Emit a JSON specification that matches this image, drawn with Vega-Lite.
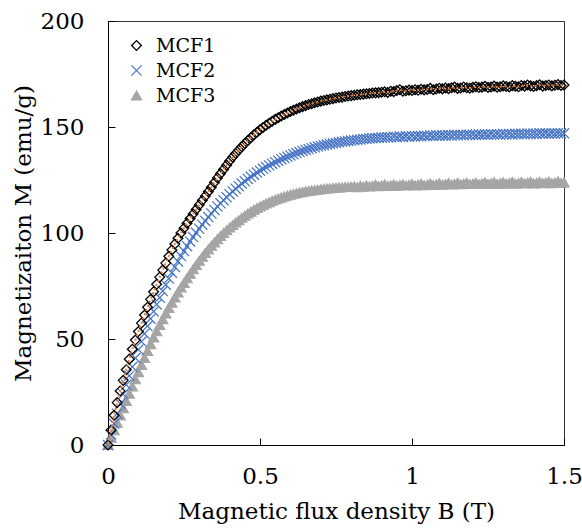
{
  "$schema": "https://vega.github.io/schema/vega-lite/v6.json",
  "width": 456,
  "height": 424,
  "autosize": {"type": "none"},
  "padding": {"left": 108, "top": 21, "right": 18, "bottom": 85},
  "background": "white",
  "config": {
    "font": "DejaVu Serif",
    "view": {"stroke": "#333333", "strokeWidth": 1},
    "axis": {
      "labelFont": "DejaVu Serif", "labelFontSize": 23, "labelColor": "#000000",
      "titleFont": "DejaVu Serif", "titleFontSize": 23, "titleFontWeight": "normal", "titleColor": "#000000",
      "grid": false, "domainColor": "#000000", "domainWidth": 1, "tickColor": "#000000", "tickWidth": 1,
      "tickSize": -7, "labelFlush": false, "labelOverlap": false, "labelBound": false
    },
    "legend": {
      "orient": "none", "legendX": 19, "legendY": 15, "title": null,
      "labelFont": "DejaVu Serif", "labelFontSize": 19, "labelColor": "#000000",
      "labelOffset": 10, "rowPadding": 5, "padding": 0, "symbolStrokeWidth": 1
    }
  },
  "data": {"values": [
    {"B":0.00,"MCF1":0,"MCF2":0,"MCF3":0},
    {"B":0.01,"MCF1":7,"MCF2":5,"MCF3":3.5},
    {"B":0.02,"MCF1":14,"MCF2":10,"MCF3":7},
    {"B":0.03,"MCF1":20,"MCF2":14.8,"MCF3":10.5},
    {"B":0.04,"MCF1":25.5,"MCF2":19.5,"MCF3":14},
    {"B":0.05,"MCF1":30.5,"MCF2":24,"MCF3":17.4},
    {"B":0.06,"MCF1":35.5,"MCF2":28.4,"MCF3":20.8},
    {"B":0.07,"MCF1":40.5,"MCF2":32.7,"MCF3":24.2},
    {"B":0.08,"MCF1":45.2,"MCF2":36.9,"MCF3":27.6},
    {"B":0.09,"MCF1":49.5,"MCF2":41,"MCF3":31},
    {"B":0.10,"MCF1":53.5,"MCF2":45,"MCF3":34.4},
    {"B":0.11,"MCF1":57.5,"MCF2":48.8,"MCF3":37.8},
    {"B":0.12,"MCF1":61.3,"MCF2":52.5,"MCF3":41.1},
    {"B":0.13,"MCF1":65,"MCF2":56.1,"MCF3":44.4},
    {"B":0.14,"MCF1":68.7,"MCF2":59.6,"MCF3":47.6},
    {"B":0.15,"MCF1":72.3,"MCF2":63,"MCF3":50.7},
    {"B":0.16,"MCF1":75.8,"MCF2":66.3,"MCF3":53.7},
    {"B":0.17,"MCF1":79.2,"MCF2":69.5,"MCF3":56.6},
    {"B":0.18,"MCF1":82.5,"MCF2":72.6,"MCF3":59.4},
    {"B":0.19,"MCF1":85.8,"MCF2":75.6,"MCF3":62.1},
    {"B":0.20,"MCF1":89,"MCF2":78.5,"MCF3":64.7},
    {"B":0.21,"MCF1":92,"MCF2":81.3,"MCF3":67.2},
    {"B":0.22,"MCF1":94.8,"MCF2":84,"MCF3":69.6},
    {"B":0.23,"MCF1":97.5,"MCF2":86.6,"MCF3":72},
    {"B":0.24,"MCF1":100,"MCF2":89.1,"MCF3":74.3},
    {"B":0.25,"MCF1":102.3,"MCF2":91.5,"MCF3":76.5},
    {"B":0.26,"MCF1":104.6,"MCF2":93.8,"MCF3":78.7},
    {"B":0.27,"MCF1":106.8,"MCF2":96,"MCF3":80.8},
    {"B":0.28,"MCF1":109,"MCF2":98.1,"MCF3":82.9},
    {"B":0.29,"MCF1":111.1,"MCF2":100.1,"MCF3":84.9},
    {"B":0.30,"MCF1":113.2,"MCF2":102,"MCF3":86.9},
    {"B":0.31,"MCF1":115.3,"MCF2":103.9,"MCF3":88.8},
    {"B":0.32,"MCF1":117.4,"MCF2":105.7,"MCF3":90.6},
    {"B":0.33,"MCF1":119.5,"MCF2":107.5,"MCF3":92.3},
    {"B":0.34,"MCF1":121.6,"MCF2":109.2,"MCF3":94},
    {"B":0.35,"MCF1":123.8,"MCF2":110.9,"MCF3":95.6},
    {"B":0.36,"MCF1":126,"MCF2":112.5,"MCF3":97.1},
    {"B":0.37,"MCF1":128,"MCF2":114,"MCF3":98.6},
    {"B":0.38,"MCF1":130,"MCF2":115.5,"MCF3":100},
    {"B":0.39,"MCF1":132,"MCF2":116.9,"MCF3":101.3},
    {"B":0.40,"MCF1":134,"MCF2":118.3,"MCF3":102.6},
    {"B":0.41,"MCF1":135.8,"MCF2":119.6,"MCF3":103.8},
    {"B":0.42,"MCF1":137.5,"MCF2":120.9,"MCF3":105},
    {"B":0.43,"MCF1":139.1,"MCF2":122.1,"MCF3":106.1},
    {"B":0.44,"MCF1":140.7,"MCF2":123.3,"MCF3":107.2},
    {"B":0.45,"MCF1":142.2,"MCF2":124.4,"MCF3":108.2},
    {"B":0.46,"MCF1":143.6,"MCF2":125.5,"MCF3":109.2},
    {"B":0.47,"MCF1":145,"MCF2":126.5,"MCF3":110.1},
    {"B":0.48,"MCF1":146.3,"MCF2":127.5,"MCF3":111},
    {"B":0.49,"MCF1":147.5,"MCF2":128.5,"MCF3":111.8},
    {"B":0.50,"MCF1":148.7,"MCF2":129.4,"MCF3":112.6},
    {"B":0.51,"MCF1":149.8,"MCF2":130.3,"MCF3":113.3},
    {"B":0.52,"MCF1":150.8,"MCF2":131.1,"MCF3":114},
    {"B":0.53,"MCF1":151.8,"MCF2":131.9,"MCF3":114.6},
    {"B":0.54,"MCF1":152.7,"MCF2":132.7,"MCF3":115.2},
    {"B":0.55,"MCF1":153.6,"MCF2":133.4,"MCF3":115.8},
    {"B":0.56,"MCF1":154.4,"MCF2":134.1,"MCF3":116.3},
    {"B":0.57,"MCF1":155.2,"MCF2":134.8,"MCF3":116.8},
    {"B":0.58,"MCF1":155.9,"MCF2":135.4,"MCF3":117.3},
    {"B":0.59,"MCF1":156.6,"MCF2":136,"MCF3":117.7},
    {"B":0.60,"MCF1":157.3,"MCF2":136.6,"MCF3":118.1},
    {"B":0.61,"MCF1":157.9,"MCF2":137.1,"MCF3":118.5},
    {"B":0.62,"MCF1":158.5,"MCF2":137.7,"MCF3":118.8},
    {"B":0.63,"MCF1":159.1,"MCF2":138.2,"MCF3":119.1},
    {"B":0.64,"MCF1":159.6,"MCF2":138.7,"MCF3":119.4},
    {"B":0.65,"MCF1":160.1,"MCF2":139.2,"MCF3":119.7},
    {"B":0.66,"MCF1":160.6,"MCF2":139.6,"MCF3":119.9},
    {"B":0.67,"MCF1":161,"MCF2":140,"MCF3":120.1},
    {"B":0.68,"MCF1":161.4,"MCF2":140.4,"MCF3":120.3},
    {"B":0.69,"MCF1":161.8,"MCF2":140.8,"MCF3":120.5},
    {"B":0.70,"MCF1":162.2,"MCF2":141.1,"MCF3":120.7},
    {"B":0.71,"MCF1":162.5,"MCF2":141.4,"MCF3":120.9},
    {"B":0.72,"MCF1":162.8,"MCF2":141.7,"MCF3":121},
    {"B":0.73,"MCF1":163.1,"MCF2":142,"MCF3":121.2},
    {"B":0.74,"MCF1":163.4,"MCF2":142.3,"MCF3":121.3},
    {"B":0.75,"MCF1":163.7,"MCF2":142.5,"MCF3":121.4},
    {"B":0.76,"MCF1":163.9,"MCF2":142.8,"MCF3":121.5},
    {"B":0.77,"MCF1":164.1,"MCF2":143,"MCF3":121.6},
    {"B":0.78,"MCF1":164.4,"MCF2":143.2,"MCF3":121.7},
    {"B":0.79,"MCF1":164.6,"MCF2":143.4,"MCF3":121.8},
    {"B":0.80,"MCF1":164.8,"MCF2":143.6,"MCF3":121.9},
    {"B":0.81,"MCF1":165,"MCF2":143.8,"MCF3":122},
    {"B":0.82,"MCF1":165.2,"MCF2":144,"MCF3":121.6},
    {"B":0.83,"MCF1":165.3,"MCF2":144.1,"MCF3":122.3},
    {"B":0.84,"MCF1":165.5,"MCF2":144.3,"MCF3":121.9},
    {"B":0.85,"MCF1":165.7,"MCF2":144.4,"MCF3":122.5},
    {"B":0.86,"MCF1":165.8,"MCF2":144.6,"MCF3":122},
    {"B":0.87,"MCF1":166,"MCF2":144.7,"MCF3":122.2},
    {"B":0.88,"MCF1":166.1,"MCF2":144.8,"MCF3":122.8},
    {"B":0.89,"MCF1":166.2,"MCF2":144.9,"MCF3":122.1},
    {"B":0.90,"MCF1":166.4,"MCF2":145,"MCF3":122.4},
    {"B":0.91,"MCF1":166.6,"MCF2":145,"MCF3":122.9},
    {"B":0.92,"MCF1":166.3,"MCF2":145.2,"MCF3":122.2},
    {"B":0.93,"MCF1":166.9,"MCF2":145.1,"MCF3":122.5},
    {"B":0.94,"MCF1":166.7,"MCF2":145.4,"MCF3":123},
    {"B":0.95,"MCF1":167.2,"MCF2":145.2,"MCF3":122.3},
    {"B":0.96,"MCF1":167.6,"MCF2":145.5,"MCF3":122.6},
    {"B":0.97,"MCF1":166.9,"MCF2":145.3,"MCF3":123.1},
    {"B":0.98,"MCF1":167.1,"MCF2":145.6,"MCF3":122.4},
    {"B":0.99,"MCF1":167.4,"MCF2":145.4,"MCF3":122.7},
    {"B":1.00,"MCF1":167.2,"MCF2":145.7,"MCF3":123.2},
    {"B":1.01,"MCF1":167.6,"MCF2":145.5,"MCF3":122.5},
    {"B":1.02,"MCF1":167.3,"MCF2":145.8,"MCF3":122.8},
    {"B":1.03,"MCF1":167.8,"MCF2":145.6,"MCF3":123.3},
    {"B":1.04,"MCF1":167.5,"MCF2":145.9,"MCF3":122.6},
    {"B":1.05,"MCF1":167.7,"MCF2":145.7,"MCF3":122.9},
    {"B":1.06,"MCF1":168.2,"MCF2":146,"MCF3":123.4},
    {"B":1.07,"MCF1":167.6,"MCF2":145.8,"MCF3":122.7},
    {"B":1.08,"MCF1":167.9,"MCF2":146.1,"MCF3":123},
    {"B":1.09,"MCF1":168.3,"MCF2":145.9,"MCF3":123.5},
    {"B":1.10,"MCF1":168,"MCF2":146.1,"MCF3":122.8},
    {"B":1.11,"MCF1":168.4,"MCF2":145.9,"MCF3":123.1},
    {"B":1.12,"MCF1":168.1,"MCF2":146.2,"MCF3":123.6},
    {"B":1.13,"MCF1":168.5,"MCF2":146,"MCF3":122.9},
    {"B":1.14,"MCF1":168.8,"MCF2":146.3,"MCF3":123.2},
    {"B":1.15,"MCF1":168.2,"MCF2":146.1,"MCF3":123.7},
    {"B":1.16,"MCF1":168.4,"MCF2":146.3,"MCF3":123},
    {"B":1.17,"MCF1":168.9,"MCF2":146.1,"MCF3":123.3},
    {"B":1.18,"MCF1":168.5,"MCF2":146.4,"MCF3":123.8},
    {"B":1.19,"MCF1":168.3,"MCF2":146.2,"MCF3":123.1},
    {"B":1.20,"MCF1":168.7,"MCF2":146.4,"MCF3":123.3},
    {"B":1.21,"MCF1":169,"MCF2":146.2,"MCF3":123.8},
    {"B":1.22,"MCF1":168.6,"MCF2":146.5,"MCF3":123.1},
    {"B":1.23,"MCF1":168.8,"MCF2":146.3,"MCF3":123.4},
    {"B":1.24,"MCF1":169.2,"MCF2":146.5,"MCF3":123.9},
    {"B":1.25,"MCF1":168.7,"MCF2":146.3,"MCF3":123.2},
    {"B":1.26,"MCF1":168.9,"MCF2":146.6,"MCF3":123.5},
    {"B":1.27,"MCF1":169.3,"MCF2":146.4,"MCF3":124},
    {"B":1.28,"MCF1":168.8,"MCF2":146.6,"MCF3":123.2},
    {"B":1.29,"MCF1":169,"MCF2":146.4,"MCF3":123.5},
    {"B":1.30,"MCF1":169.4,"MCF2":146.7,"MCF3":124},
    {"B":1.31,"MCF1":169.1,"MCF2":146.5,"MCF3":123.3},
    {"B":1.32,"MCF1":168.9,"MCF2":146.7,"MCF3":123.6},
    {"B":1.33,"MCF1":169.5,"MCF2":146.5,"MCF3":124.1},
    {"B":1.34,"MCF1":169.2,"MCF2":146.8,"MCF3":123.3},
    {"B":1.35,"MCF1":169,"MCF2":146.6,"MCF3":123.6},
    {"B":1.36,"MCF1":169.6,"MCF2":146.8,"MCF3":124.1},
    {"B":1.37,"MCF1":169.3,"MCF2":146.6,"MCF3":123.4},
    {"B":1.38,"MCF1":169.8,"MCF2":146.9,"MCF3":123.7},
    {"B":1.39,"MCF1":169.4,"MCF2":146.7,"MCF3":124.2},
    {"B":1.40,"MCF1":169.1,"MCF2":146.9,"MCF3":123.4},
    {"B":1.41,"MCF1":169.5,"MCF2":146.7,"MCF3":123.7},
    {"B":1.42,"MCF1":169.9,"MCF2":147,"MCF3":124.2},
    {"B":1.43,"MCF1":169.3,"MCF2":146.8,"MCF3":123.5},
    {"B":1.44,"MCF1":169.6,"MCF2":147,"MCF3":123.8},
    {"B":1.45,"MCF1":169.8,"MCF2":146.8,"MCF3":124.3},
    {"B":1.46,"MCF1":169.4,"MCF2":147.1,"MCF3":123.5},
    {"B":1.47,"MCF1":169.7,"MCF2":146.9,"MCF3":123.8},
    {"B":1.48,"MCF1":170,"MCF2":147.1,"MCF3":124.3},
    {"B":1.49,"MCF1":169.6,"MCF2":146.9,"MCF3":123.6},
    {"B":1.50,"MCF1":169.8,"MCF2":147,"MCF3":123.9}
  ]},
  "layer": [
    {
      "transform": [{"fold": ["MCF1", "MCF2", "MCF3"], "as": ["series", "M"]}],
      "mark": {"type": "point", "filled": false, "opacity": 1, "strokeWidth": 1.1},
      "encoding": {
        "x": {"field": "B", "type": "quantitative",
              "scale": {"domain": [0, 1.5], "nice": false, "zero": false},
              "axis": {"values": [0, 0.5, 1, 1.5], "format": ".1~f", "labelPadding": 27, "titlePadding": 12},
              "title": "Magnetic flux density B (T)"},
        "y": {"field": "M", "type": "quantitative",
              "scale": {"domain": [0, 200], "nice": false},
              "axis": {"values": [0, 50, 100, 150, 200], "labelPadding": 31, "titlePadding": 5, "titleFontSize": 23},
              "title": "Magnetizaiton M (emu/g)"},
        "shape": {"field": "series", "type": "nominal",
                  "scale": {"domain": ["MCF1", "MCF2", "MCF3"], "range": ["diamond", "M-1,-1L1,1M-1,1L1,-1", "triangle-up"]}},
        "stroke": {"field": "series", "type": "nominal",
                   "scale": {"domain": ["MCF1", "MCF2", "MCF3"], "range": ["#000000", "#4472C4", "#A5A5A5"]}},
        "fill": {"field": "series", "type": "nominal",
                 "scale": {"domain": ["MCF1", "MCF2", "MCF3"], "range": ["transparent", "transparent", "#A5A5A5"]}},
        "size": {"field": "series", "type": "nominal",
                 "scale": {"domain": ["MCF1", "MCF2", "MCF3"], "range": [95, 110, 120]}},
        "strokeWidth": {"field": "series", "type": "nominal",
                 "scale": {"domain": ["MCF1", "MCF2", "MCF3"], "range": [1.3, 1.1, 1]}},
        "order": {"field": "series", "sort": "descending"}
      }
    },
    {
      "mark": {"type": "line", "color": "#ED7D31", "strokeWidth": 2, "strokeDash": [2, 2.5]},
      "encoding": {
        "x": {"field": "B", "type": "quantitative", "title": "Magnetic flux density B (T)"},
        "y": {"field": "MCF1", "type": "quantitative", "title": "Magnetizaiton M (emu/g)"}
      }
    }
  ]
}
